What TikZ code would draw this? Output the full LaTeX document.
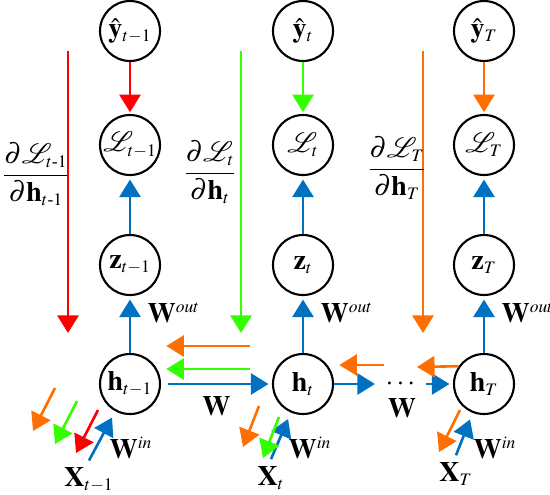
\documentclass[tikz,border=0pt]{standalone}
\usepackage{mathptmx}
\usepackage{amsmath}
\usepackage{fontspec}
\setmainfont{Liberation Serif}
\usetikzlibrary{arrows.meta,calc,positioning}
\DeclareMathSizes{16}{16}{10}{7}

\definecolor{bpblue}{RGB}{0,112,192}
\definecolor{bpred}{RGB}{255,0,0}
\definecolor{bpgreen}{RGB}{51,255,0}
\definecolor{bporange}{RGB}{255,110,0}

\begin{document}
\begin{tikzpicture}[x=0.02cm,y=-0.02cm,>={Triangle[width=12pt,length=10pt]},line width=1.5pt,font=\fontsize{16}{19}\selectfont]
    \tikzstyle{cellnode}=[circle,draw=black,line width=1.2pt,minimum size=1.2cm,inner sep=0pt]
    \tikzstyle{flow}=[->,bpblue,shorten >=2pt]
    \tikzstyle{weight}=[text=black]

    \useasboundingbox (0,0) rectangle (550,494);

    % Draw the unrolled nodes, one column per time step
    \foreach \name/\x/\s/\c in {1/130/{t-1}/bpred,2/303/t/bpgreen,3/484/T/bporange} {
        \node[cellnode] (y-\name) at (\x,31) {$\hat{\mathbf{y}}_{\s}$};
        \node[cellnode] (L-\name) at (\x,145) {$\mathcal{L}_{\s}$};
        \node[cellnode] (z-\name) at (\x,265) {$\mathbf{z}_{\s}$};
        \node[cellnode] (h-\name) at (\x,384) {$\mathbf{h}_{\s}$};
        \draw[->,\c,shorten >=1pt] (y-\name) -- (L-\name);
        \draw[flow] (z-\name) -- (L-\name);
        \draw[flow] (h-\name) -- (z-\name) node[weight,pos=0.7,right=6pt] {$\mathbf{W}^{out}$};
    }

    % Gradients of each loss
    \foreach \x/\c in {68/bpred,241/bpgreen,423/bporange}
        \draw[->,\c] (\x,51) -- (\x,333);
    \node[anchor=west,inner sep=0pt] (dL-1) at (1,174) {$\dfrac{\partial\mathcal{L}_{t\text{-}1}}{\partial\mathbf{h}_{t\text{-}1}}$};
    \node (dL-2) at (210,172) {$\dfrac{\partial\mathcal{L}_{t}}{\partial\mathbf{h}_{t}}$};
    \node (dL-3) at (397,168) {$\dfrac{\partial\mathcal{L}_{T}}{\partial\mathbf{h}_{T}}$};

    % Recurrent connections
    \draw[flow,shorten <=4pt] (h-1) -- (h-2) node[weight,midway,below=3pt] {$\mathbf{W}$};
    \node (dots) at (402,384) {$\cdots$};
    \node (W-3) at (402,408) {$\mathbf{W}$};
    \draw[flow] (h-2) -- (dots);
    \draw[flow] (dots) -- (h-3);

    % Backward flow through time
    \coordinate (ob-2) at (250,346);
    \coordinate (gb-2) at (250,369);
    \coordinate (ob-3) at (384,365);
    \coordinate (oa-3) at (417,367);
    \draw[->,bporange,shorten >=3pt] (ob-2) -- (ob-2 -| h-1.east);
    \draw[->,bpgreen,shorten >=3pt] (gb-2) -- (gb-2 -| h-1.east);
    \draw[->,bporange,shorten >=3pt] (ob-3) -- (ob-3 -| h-2.east);
    \draw[->,bporange] (h-3.145) -- (oa-3);

    % Inputs
    \foreach \name/\s/\dx/\dy/\wx in {1/{t-1}/-41/96/1,2/t/-32/94/7,3/T/-28/90/11} {
        \node (x-\name) at ($(h-\name)+(\dx,\dy)$) {$\mathbf{X}_{\s}$};
        \node (win-\name) at ($(h-\name)+(\wx,64)$) {$\mathbf{W}^{in}$};
        \draw[flow,shorten >=4pt] (x-\name.north) -- (h-\name);
    }
    \draw[->,bpred] ($(h-1)+(-32,26)$) -- ++(-22,43);
    \draw[->,bpgreen] ($(h-1)+(-53,17)$) -- ++(-22,43);
    \draw[->,bporange] ($(h-1)+(-75,4)$) -- ++(-22,43);
    \draw[->,bpgreen] ($(h-2)+(-24,33)$) -- ++(-16,41);
    \draw[->,bporange] ($(h-2)+(-44,22)$) -- ++(-16,41);
    \draw[->,bporange] ($(h-3)+(-24,26)$) -- ++(-21,42);
\end{tikzpicture}
\end{document}
